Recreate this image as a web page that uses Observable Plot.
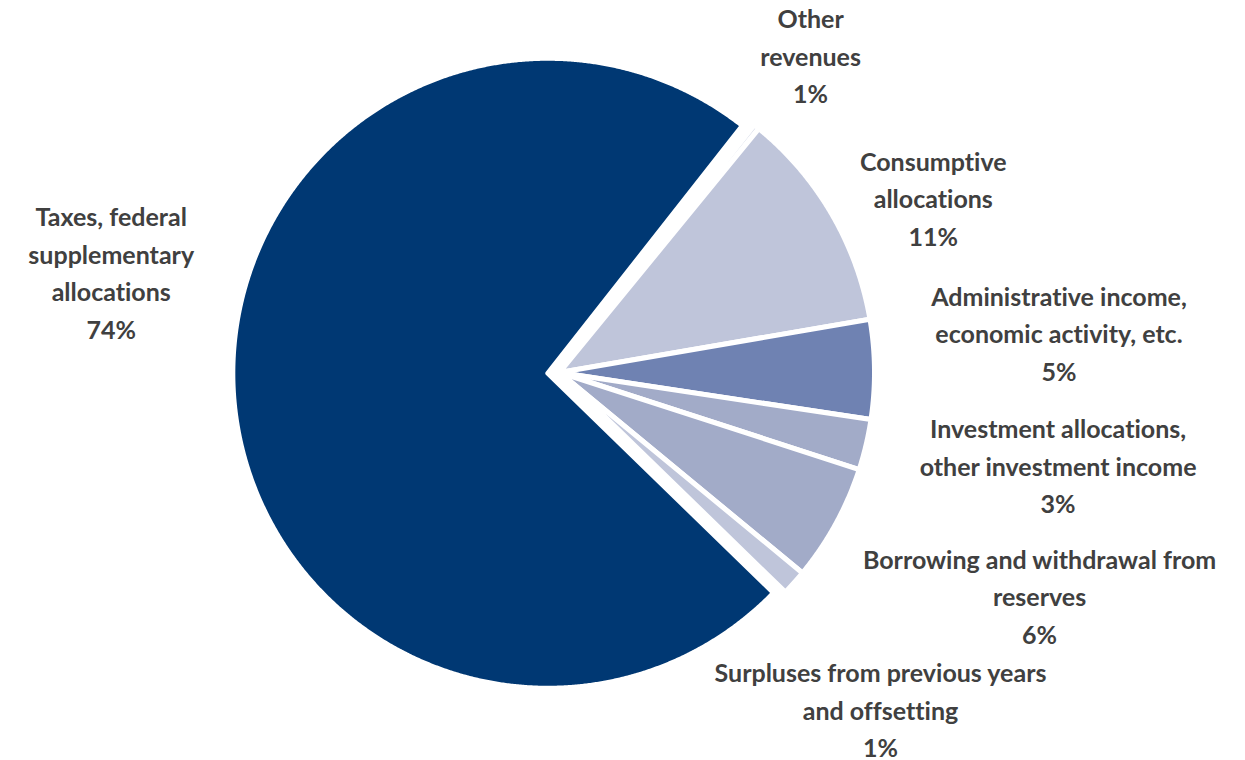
<!DOCTYPE html>
<html>
<head>
<meta charset="utf-8">
<script src="https://cdn.jsdelivr.net/npm/d3@7"></script>
<script src="https://cdn.jsdelivr.net/npm/@observablehq/plot@0.6"></script>
<style>
  html, body { margin: 0; padding: 0; background: #ffffff; }
  #chart svg { display: block; }
  #chart text { font-variant-ligatures: none; font-feature-settings: "liga" 0; }
</style>
</head>
<body>
<div id="chart"></div>
<script>
// ---------- data ----------
const categories = [
  "Taxes, federal supplementary allocations",
  "Other revenues",
  "Consumptive allocations",
  "Administrative income, economic activity, etc.",
  "Investment allocations, other investment income",
  "Borrowing and withdrawal from reserves",
  "Surpluses from previous years and offsetting"
];
const values = [73.4, 0.3, 11.4, 5.1, 2.6, 6.0, 1.3];
const percentLabels = ["74%", "1%", "11%", "5%", "3%", "6%", "1%"];
const labelTexts = [
  "Taxes, federal\nsupplementary\nallocations",
  "Other\nrevenues",
  "Consumptive\nallocations",
  "Administrative income,\neconomic activity, etc.",
  "Investment allocations,\nother investment income",
  "Borrowing and withdrawal from\nreserves",
  "Surpluses from previous years\nand offsetting"
];

// ---------- style / layout ----------
const colors = ["#003873", "#dde1ec", "#bfc5da", "#6f82b2", "#a2abc8", "#a2abc8", "#bfc5da"];
const W = 1245, H = 760;
const M = {left: 244, right: 371, top: 57, bottom: 73};
const pxPerUnit = (W - M.left - M.right) / 2;
const startAngle = 134.2;              // degrees, clockwise from 12 o'clock
const explodePx = [11.7, 0, 0, 0, 0, 0, 0];
const labelRadius = 1.3;
const labelNudgePx = [[-28, -130], [-5, 1], [20, 30], [90, -37], [100, -3], [121, 25], [16, 62]];

// ---------- geometry from values ----------
const rad = a => a * Math.PI / 180;
const total = d3.sum(values);
let acc = startAngle;
const slices = values.map((v, i) => {
  const a0 = acc, a1 = acc + v / total * 360;
  acc = a1;
  const mid = (a0 + a1) / 2;
  const e = explodePx[i] / pxPerUnit;
  return {i, name: categories[i], a0, a1, mid, ox: e * Math.sin(rad(mid)), oy: e * Math.cos(rad(mid))};
});

const polyPoints = [];
for (const s of slices) {
  polyPoints.push({name: s.name, x: s.ox, y: s.oy});
  const n = Math.max(2, Math.ceil((s.a1 - s.a0) / 0.25));
  for (let k = 0; k <= n; k++) {
    const a = rad(s.a0 + (s.a1 - s.a0) * k / n);
    polyPoints.push({name: s.name, x: s.ox + Math.sin(a), y: s.oy + Math.cos(a)});
  }
}

const labels = slices.map(s => ({
  text: labelTexts[s.i] + "\n" + percentLabels[s.i],
  x: s.ox + labelRadius * Math.sin(rad(s.mid)) + labelNudgePx[s.i][0] / pxPerUnit,
  y: s.oy + labelRadius * Math.cos(rad(s.mid)) - labelNudgePx[s.i][1] / pxPerUnit
}));

const chart = Plot.plot({
  width: W,
  height: H,
  marginLeft: M.left,
  marginRight: M.right,
  marginTop: M.top,
  marginBottom: M.bottom,
  style: {fontFamily: "Lato, 'DejaVu Sans', sans-serif", background: "#ffffff", overflow: "visible"},
  x: {domain: [-1, 1], axis: null},
  y: {domain: [-1, 1], axis: null},
  color: {domain: categories, range: colors},
  marks: [
    Plot.line(polyPoints, {
      x: "x", y: "y", z: "name", fill: "name",
      stroke: "white", strokeWidth: 5, curve: "linear-closed"
    }),
    Plot.text(labels, {
      x: "x", y: "y", text: "text",
      fontSize: 25, lineHeight: 1.5, fontWeight: "bold",
      fill: "#404040", textAnchor: "middle"
    })
  ]
});
document.getElementById("chart").append(chart);
</script>
</body>
</html>
